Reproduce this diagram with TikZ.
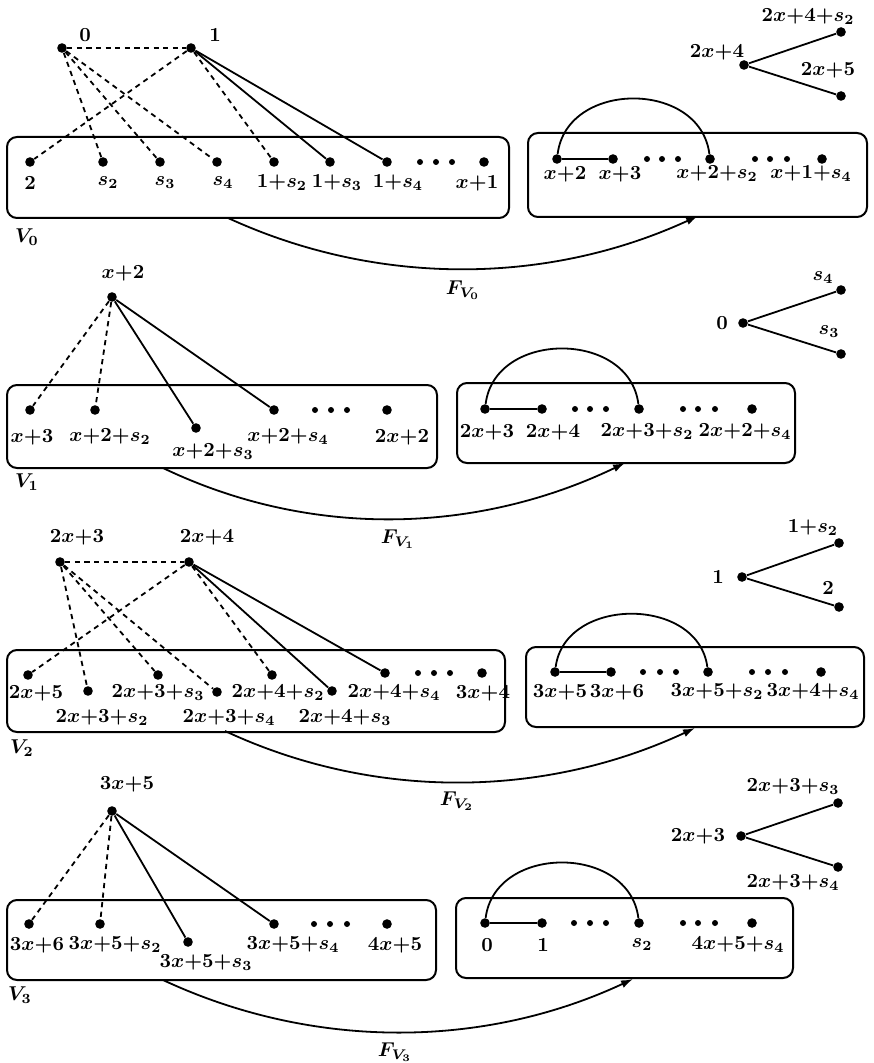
\documentclass[tikz,border=0pt]{standalone}
\usetikzlibrary{arrows.meta}
\begin{document}
\begin{tikzpicture}[x=0.5pt,y=-0.5pt,
  dot/.style={circle,fill,inner sep=0pt,minimum size=4.8pt},
  sdot/.style={circle,fill,inner sep=0pt,minimum size=3pt},
  lab/.style={inner sep=0pt,font=\fontsize{10}{12}\selectfont\boldmath},
  edge/.style={line width=0.9pt},
  dedge/.style={line width=0.9pt,dash pattern=on 2.6pt off 2.2pt},
  panel/.style={draw,line width=1pt,rounded corners=5pt,inner sep=0pt},
  map/.style={line width=0.9pt,-{Latex[length=6pt,width=4pt]}},
]
\useasboundingbox (0,0) rectangle (873,1063);

% ---------------- V_0 ----------------
\node[panel,minimum width=251pt,minimum height=40.5pt] (B0) at (258,177.5) {};
\node[panel,minimum width=169.5pt,minimum height=42pt] (C0) at (697.5,175) {};
\node[dot] (a0) at (62,48) {};
\node[dot] (a1) at (191,48) {};
\node[lab] (la0) at (85,35) {$0$};
\node[lab] (la1) at (215,35) {$1$};
\node[dot] (p2) at (30,162) {};
\node[dot] (ps2) at (103,162) {};
\node[dot] (ps3) at (160,162) {};
\node[dot] (ps4) at (217,162) {};
\node[dot] (p1s2) at (274,162) {};
\node[dot] (p1s3) at (330,162) {};
\node[dot] (p1s4) at (387,162) {};
\node[sdot] (e01) at (420,162) {};
\node[sdot] (e02) at (436,162) {};
\node[sdot] (e03) at (452,162) {};
\node[dot] (px1) at (484,162) {};
\node[lab] (lp2) at (30,183) {$2$};
\node[lab] (lps2) at (108,183) {$s_2$};
\node[lab] (lps3) at (165,183) {$s_3$};
\node[lab] (lps4) at (223,183) {$s_4$};
\node[lab] (lp1s2) at (282,183) {$1{+}s_2$};
\node[lab] (lp1s3) at (337,183) {$1{+}s_3$};
\node[lab] (lp1s4) at (398,183) {$1{+}s_4$};
\node[lab] (lpx1) at (477,183) {$x{+}1$};
\node[lab] (lV0) at (27,237) {$V_0$};
\draw[dedge] (a0) -- (a1);
\draw[dedge] (a0) -- (ps2);
\draw[dedge] (a0) -- (ps3);
\draw[dedge] (a0) -- (ps4);
\draw[dedge] (a1) -- (p2);
\draw[dedge] (a1) -- (p1s2);
\draw[edge] (a1) -- (p1s3);
\draw[edge] (a1) -- (p1s4);
% image of V_0
\node[dot] (q0) at (557,159) {};
\node[dot] (q1) at (613,159) {};
\node[sdot] (e04) at (647,159) {};
\node[sdot] (e05) at (662,159) {};
\node[sdot] (e06) at (678,159) {};
\node[dot] (q2) at (710,159) {};
\node[sdot] (e07) at (755,159) {};
\node[sdot] (e08) at (770,159) {};
\node[sdot] (e09) at (787,159) {};
\node[dot] (q3) at (822,159) {};
\node[lab] (lq0) at (565,174) {$x{+}2$};
\node[lab] (lq1) at (620,174) {$x{+}3$};
\node[lab] (lq2) at (717,174) {$x{+}2{+}s_2$};
\node[lab] (lq3) at (811,174) {$x{+}1{+}s_4$};
\draw[edge] (q0) -- (q1);
\draw[edge] (q0) .. controls +(10,-79) and +(-10,-79) .. (q2);
% tree
\node[dot] (t0) at (744,65) {};
\node[dot] (t1) at (841,32) {};
\node[dot] (t2) at (841,96) {};
\node[lab] (lt0) at (717,52) {$2x{+}4$};
\node[lab] (lt1) at (808,17) {$2x{+}4{+}s_2$};
\node[lab] (lt2) at (828,70) {$2x{+}5$};
\draw[edge] (t0) -- (t1);
\draw[edge] (t0) -- (t2);
% map F_{V_0}
\coordinate (f0s) at (228,218);
\coordinate (f0e) at (698,216);
\draw[map] (f0s) .. controls +(150,69) and +(-150,69) .. (f0e);
\node[lab] (lf0) at (463,290) {$F_{V_0}$};

% ---------------- V_1 ----------------
\node[panel,minimum width=215pt,minimum height=41.5pt] (B1) at (222,426.5) {};
\node[panel,minimum width=169pt,minimum height=40pt] (C1) at (626,423) {};
\node[dot] (b0) at (112,297) {};
\node[lab] (lb0) at (123,273) {$x{+}2$};
\node[dot] (r1) at (30,410) {};
\node[dot] (r2) at (95,410) {};
\node[dot] (r3) at (196,428) {};
\node[dot] (r4) at (274,410) {};
\node[sdot] (e11) at (315,410) {};
\node[sdot] (e12) at (331,410) {};
\node[sdot] (e13) at (347,410) {};
\node[dot] (r5) at (387,410) {};
\node[lab] (lr1) at (32,437) {$x{+}3$};
\node[lab] (lr2) at (110,437) {$x{+}2{+}s_2$};
\node[lab] (lr3) at (213,452) {$x{+}2{+}s_3$};
\node[lab] (lr4) at (288,437) {$x{+}2{+}s_4$};
\node[lab] (lr5) at (402,437) {$2x{+}2$};
\node[lab] (lV1) at (27,482) {$V_1$};
\draw[dedge] (b0) -- (r1);
\draw[dedge] (b0) -- (r2);
\draw[edge] (b0) -- (r3);
\draw[edge] (b0) -- (r4);
% image of V_1
\node[dot] (u0) at (485,409) {};
\node[dot] (u1) at (542,409) {};
\node[sdot] (e14) at (575,409) {};
\node[sdot] (e15) at (590,409) {};
\node[sdot] (e16) at (606,409) {};
\node[dot] (u2) at (639,409) {};
\node[sdot] (e17) at (683,409) {};
\node[sdot] (e18) at (698,409) {};
\node[sdot] (e19) at (715,409) {};
\node[dot] (u3) at (752,409) {};
\node[lab] (lu0) at (487,432) {$2x{+}3$};
\node[lab] (lu1) at (553,432) {$2x{+}4$};
\node[lab] (lu2) at (647,432) {$2x{+}3{+}s_2$};
\node[lab] (lu3) at (745,432) {$2x{+}2{+}s_4$};
\draw[edge] (u0) -- (u1);
\draw[edge] (u0) .. controls +(10,-79) and +(-10,-79) .. (u2);
% tree
\node[dot] (w0) at (743,323) {};
\node[dot] (w1) at (841,290) {};
\node[dot] (w2) at (841,354) {};
\node[lab] (lw0) at (722,323) {$0$};
\node[lab] (lw1) at (823,278) {$s_4$};
\node[lab] (lw2) at (829,332) {$s_3$};
\draw[edge] (w0) -- (w1);
\draw[edge] (w0) -- (w2);
% map F_{V_1}
\coordinate (f1s) at (163,468);
\coordinate (f1e) at (625,463);
\draw[map] (f1s) .. controls +(148,71) and +(-148,71) .. (f1e);
\node[lab] (lf1) at (398,539) {$F_{V_1}$};

% ---------------- V_2 ----------------
\node[panel,minimum width=249pt,minimum height=41pt] (B2) at (256,691) {};
\node[panel,minimum width=169pt,minimum height=40pt] (C2) at (695,687) {};
\node[dot] (c0) at (60,562) {};
\node[dot] (c1) at (189,562) {};
\node[lab] (lc0) at (77,537) {$2x{+}3$};
\node[lab] (lc1) at (207,537) {$2x{+}4$};
\node[dot] (g1) at (28,675) {};
\node[dot] (g2) at (88,691) {};
\node[dot] (g3) at (158,675) {};
\node[dot] (g4) at (217,692) {};
\node[dot] (g5) at (272,675) {};
\node[dot] (g6) at (332,691) {};
\node[dot] (g7) at (385,673) {};
\node[sdot] (e21) at (418,673) {};
\node[sdot] (e22) at (434,673) {};
\node[sdot] (e23) at (450,673) {};
\node[dot] (g8) at (482,673) {};
\node[lab] (lg1) at (36,693) {$2x{+}5$};
\node[lab] (lg2) at (102,718) {$2x{+}3{+}s_2$};
\node[lab] (lg3) at (158,693) {$2x{+}3{+}s_3$};
\node[lab] (lg4) at (229,718) {$2x{+}3{+}s_4$};
\node[lab] (lg5) at (278,693) {$2x{+}4{+}s_2$};
\node[lab] (lg6) at (345,718) {$2x{+}4{+}s_3$};
\node[lab] (lg7) at (394,693) {$2x{+}4{+}s_4$};
\node[lab] (lg8) at (483,693) {$3x{+}4$};
\node[lab] (lV2) at (22,748) {$V_2$};
\draw[dedge] (c0) -- (c1);
\draw[dedge] (c1) -- (g1);
\draw[dedge] (c0) -- (g2);
\draw[dedge] (c0) -- (g3);
\draw[dedge] (c0) -- (g4);
\draw[dedge] (c1) -- (g5);
\draw[edge] (c1) -- (g6);
\draw[edge] (c1) -- (g7);
% image of V_2
\node[dot] (h0) at (555,672) {};
\node[dot] (h1) at (611,672) {};
\node[sdot] (e24) at (643,672) {};
\node[sdot] (e25) at (660,672) {};
\node[sdot] (e26) at (676,672) {};
\node[dot] (h2) at (708,672) {};
\node[sdot] (e27) at (752,672) {};
\node[sdot] (e28) at (768,672) {};
\node[sdot] (e29) at (785,672) {};
\node[dot] (h3) at (821,672) {};
\node[lab] (lh0) at (560,692) {$3x{+}5$};
\node[lab] (lh1) at (617,692) {$3x{+}6$};
\node[lab] (lh2) at (717,692) {$3x{+}5{+}s_2$};
\node[lab] (lh3) at (813,692) {$3x{+}4{+}s_4$};
\draw[edge] (h0) -- (h1);
\draw[edge] (h0) .. controls +(10,-76) and +(-10,-76) .. (h2);
% tree
\node[dot] (k0) at (742,577) {};
\node[dot] (k1) at (839,543) {};
\node[dot] (k2) at (839,607) {};
\node[lab] (lk0) at (718,577) {$1$};
\node[lab] (lk1) at (813,528) {$1{+}s_2$};
\node[lab] (lk2) at (828,588) {$2$};
\draw[edge] (k0) -- (k1);
\draw[edge] (k0) -- (k2);
% map F_{V_2}
\coordinate (f2s) at (225,731);
\coordinate (f2e) at (695,728);
\draw[map] (f2s) .. controls +(150,70) and +(-150,70) .. (f2e);
\node[lab] (lf2) at (457,801) {$F_{V_2}$};

% ---------------- V_3 ----------------
\node[panel,minimum width=214.5pt,minimum height=40pt] (B3) at (221.5,940) {};
\node[panel,minimum width=168.5pt,minimum height=40pt] (C3) at (624.5,938) {};
\node[dot] (d0) at (112,811) {};
\node[lab] (ld0) at (127,784) {$3x{+}5$};
\node[dot] (m1) at (29,924) {};
\node[dot] (m2) at (100,924) {};
\node[dot] (m3) at (188,942) {};
\node[dot] (m4) at (274,924) {};
\node[sdot] (e31) at (314,924) {};
\node[sdot] (e32) at (330,924) {};
\node[sdot] (e33) at (347,924) {};
\node[dot] (m5) at (387,924) {};
\node[lab] (lm1) at (37,945) {$3x{+}6$};
\node[lab] (lm2) at (115,945) {$3x{+}5{+}s_2$};
\node[lab] (lm3) at (206,963) {$3x{+}5{+}s_3$};
\node[lab] (lm4) at (293,945) {$3x{+}5{+}s_4$};
\node[lab] (lm5) at (395,945) {$4x{+}5$};
\node[lab] (lV3) at (20,995) {$V_3$};
\draw[dedge] (d0) -- (m1);
\draw[dedge] (d0) -- (m2);
\draw[edge] (d0) -- (m3);
\draw[edge] (d0) -- (m4);
% image of V_3
\node[dot] (n0) at (485,923) {};
\node[dot] (n1) at (542,923) {};
\node[sdot] (e34) at (574,923) {};
\node[sdot] (e35) at (590,923) {};
\node[sdot] (e36) at (606,923) {};
\node[dot] (n2) at (639,923) {};
\node[sdot] (e37) at (683,923) {};
\node[sdot] (e38) at (698,923) {};
\node[sdot] (e39) at (715,923) {};
\node[dot] (n3) at (752,923) {};
\node[lab] (ln0) at (487,945) {$0$};
\node[lab] (ln1) at (543,945) {$1$};
\node[lab] (ln2) at (642,945) {$s_2$};
\node[lab] (ln3) at (738,945) {$4x{+}5{+}s_4$};
\draw[edge] (n0) -- (n1);
\draw[edge] (n0) .. controls +(10,-79) and +(-10,-79) .. (n2);
% tree
\node[dot] (v0) at (741,836) {};
\node[dot] (v1) at (838,803) {};
\node[dot] (v2) at (838,867) {};
\node[lab] (lv0) at (698,836) {$2x{+}3$};
\node[lab] (lv1) at (793,787) {$2x{+}3{+}s_3$};
\node[lab] (lv2) at (793,883) {$2x{+}3{+}s_4$};
\draw[edge] (v0) -- (v1);
\draw[edge] (v0) -- (v2);
% map F_{V_3}
\coordinate (f3s) at (163,980);
\coordinate (f3e) at (633,979);
\draw[map] (f3s) .. controls +(150,70) and +(-150,70) .. (f3e);
\node[lab] (lf3) at (395,1052) {$F_{V_3}$};
\end{tikzpicture}
\end{document}
